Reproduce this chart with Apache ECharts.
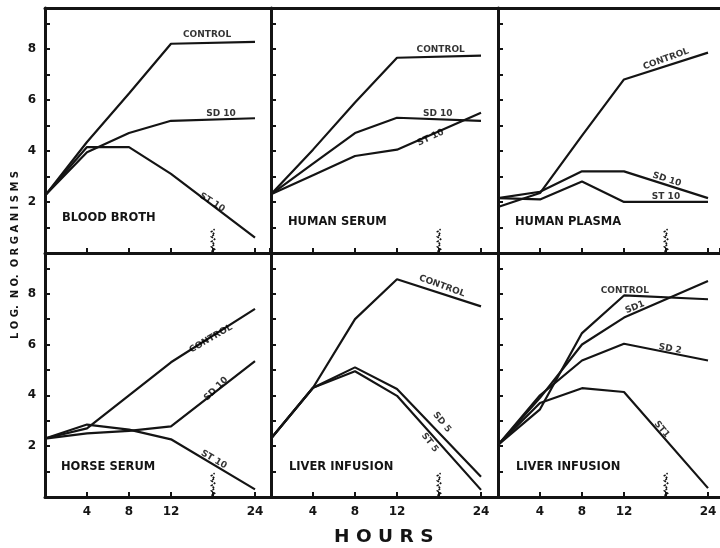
<!DOCTYPE html>
<html>
<head>
<meta charset="utf-8">
<script src="https://cdn.jsdelivr.net/npm/echarts@6/dist/echarts.min.js"></script>
<style>
html,body{margin:0;padding:0;background:#fff;}
#chart{width:720px;height:548px;}
</style>
</head>
<body>
<div id="chart"></div>
<script>
// ---- data ----
const HOURS = [0, 4, 8, 12, 24];
// axis slots: slot 4 is the axis break between 12 and 24 hours
const TICK_LABELS = ['0', '4', '8', '12', '', '24'];
const Y_TICK_LABELS = ['2', '4', '6', '8'];

const bloodControl  = [2.25, 4.35, 6.25, 8.2, 8.27];
const bloodSD10     = [2.25, 3.95, 4.7, 5.18, 5.28];
const bloodST10     = [2.25, 4.15, 4.15, 3.1, 0.6];

const serumControl  = [2.3, 4.05, 5.9, 7.65, 7.73];
const serumSD10     = [2.3, 3.5, 4.7, 5.3, 5.18];
const serumST10     = [2.3, 3.05, 3.8, 4.05, 5.5];

const plasmaControl = [1.8, 2.35, 4.6, 6.8, 7.85];
const plasmaSD10    = [2.15, 2.4, 3.2, 3.2, 2.15];
const plasmaST10    = [2.15, 2.1, 2.8, 2.0, 2.0];

const horseControl  = [2.3, 2.7, 4.0, 5.3, 7.4];
const horseSD10     = [2.3, 2.5, 2.6, 2.78, 5.35];
const horseST10     = [2.3, 2.85, 2.65, 2.27, 0.3];

const liverControl  = [2.3, 4.3, 7.0, 8.57, 7.5];
const liverSD5      = [2.3, 4.3, 5.1, 4.25, 0.8];
const liverST5      = [2.3, 4.3, 4.95, 3.98, 0.28];

const liver2Control = [2.05, 3.45, 6.45, 7.93, 7.78];
const liver2SD1     = [2.05, 3.9, 6.0, 7.06, 8.5];
const liver2SD2     = [2.05, 4.0, 5.37, 6.03, 5.37];
const liver2ST1     = [2.05, 3.7, 4.28, 4.13, 0.35];

// ---- layout / annotations ----
const FONT = 'DejaVu Sans';
const INK = '#141414';
const SLOT_PX = 42;
const panels = [
  {name: 'BLOOD BROTH', grid: {left: 45, top: 8, width: 225, height: 245}, namePos: [62, 219],
   series: [bloodControl, bloodSD10, bloodST10],
   labels: [['CONTROL', 3.86, 8.55, 0], ['SD 10', 4.19, 5.47, 0], ['ST 10', 3.98, 1.98, -32]]},
  {name: 'HUMAN SERUM', grid: {left: 271, top: 8, width: 227, height: 245}, namePos: [288, 223],
   series: [serumControl, serumSD10, serumST10],
   labels: [['CONTROL', 4.04, 7.95, 0], ['SD 10', 3.97, 5.47, 0], ['ST 10', 3.8, 4.52, 25]]},
  {name: 'HUMAN PLASMA', grid: {left: 498, top: 8, width: 222, height: 245}, namePos: [515, 223],
   series: [plasmaControl, plasmaSD10, plasmaST10],
   labels: [['CONTROL', 4.0, 7.6, 20], ['SD 10', 4.02, 2.88, -18], ['ST 10', 4.0, 2.22, 0]]},
  {name: 'HORSE SERUM', grid: {left: 45, top: 253, width: 225, height: 244}, namePos: [61, 468],
   series: [horseControl, horseSD10, horseST10],
   labels: [['CONTROL', 3.95, 6.23, 30], ['SD 10', 4.07, 4.25, 45], ['ST 10', 4.02, 1.47, -30]]},
  {name: 'LIVER INFUSION', grid: {left: 271, top: 253, width: 227, height: 244}, namePos: [289, 468],
   series: [liverControl, liverSD5, liverST5],
   labels: [['CONTROL', 4.07, 8.3, -20], ['SD 5', 4.07, 2.94, -50], ['ST 5', 3.78, 2.14, -52]]},
  {name: 'LIVER INFUSION', grid: {left: 498, top: 253, width: 222, height: 244}, namePos: [516, 468],
   series: [liver2Control, liver2SD1, liver2SD2, liver2ST1],
   labels: [['CONTROL', 3.02, 8.1, 0], ['SD1', 3.26, 7.46, 22], ['SD 2', 4.1, 5.83, -10], ['ST1', 3.9, 2.66, -50]]}
];

function slotOf(h) { return TICK_LABELS.indexOf(String(h)); }
const BREAK_SLOT = TICK_LABELS.indexOf('');

const grids = [], xAxes = [], yAxes = [], series = [], graphics = [];
const axisLine = {show: true, lineStyle: {color: INK, width: 3}};
const axisTick = {show: true, inside: true, length: 5, lineStyle: {color: INK, width: 2}};

panels.forEach((p, i) => {
  const bottomRow = i >= 3, leftCol = i % 3 === 0;
  grids.push(Object.assign({containLabel: false}, p.grid));
  xAxes.push({
    type: 'value', gridIndex: i, min: 0, max: p.grid.width / SLOT_PX, interval: 1,
    axisLine, axisTick, splitLine: {show: false},
    axisLabel: {show: bottomRow, showMaxLabel: false, showMinLabel: false, margin: 9,
      color: INK, fontFamily: FONT, fontWeight: 'bold', fontSize: 12,
      formatter: v => (Number.isInteger(v) && v > 0 ? TICK_LABELS[v] : '')}
  });
  yAxes.push({
    type: 'value', gridIndex: i, min: 0, max: 9.6, interval: 1,
    axisLine, axisTick, splitLine: {show: false},
    axisLabel: {show: leftCol, showMaxLabel: false, margin: 9,
      color: INK, fontFamily: FONT, fontWeight: 'bold', fontSize: 12,
      formatter: v => (Y_TICK_LABELS.indexOf(String(v)) >= 0 ? String(v) : '')}
  });
  p.series.forEach(vals => {
    series.push({
      type: 'line', xAxisIndex: i, yAxisIndex: i, symbol: 'none', silent: true,
      lineStyle: {color: INK, width: 2.2}, z: 3,
      data: vals.map((v, k) => [slotOf(HOURS[k]), v])
    });
  });
  // axis-break squiggle
  series.push({
    type: 'custom', xAxisIndex: i, yAxisIndex: i, silent: true, z: 2,
    data: [[BREAK_SLOT, 0.05, 1.0]],
    renderItem: (params, api) => {
      const a = api.coord([api.value(0), api.value(1)]);
      const b = api.coord([api.value(0), api.value(2)]);
      const pts = [];
      let n = 0;
      for (let y = a[1]; y >= b[1]; y -= 2.5) { pts.push([a[0] + (n % 2 ? 1.6 : -1.6), y]); n++; }
      return {type: 'polyline', shape: {points: pts},
        style: {stroke: INK, lineWidth: 1.6, fill: null, lineDash: [2, 1.2]}};
    }
  });
  // line labels
  series.push({
    type: 'scatter', xAxisIndex: i, yAxisIndex: i, symbolSize: 0, silent: true, z: 4,
    data: p.labels.map(l => ({value: [l[1], l[2]],
      label: {show: true, position: 'inside', formatter: l[0], rotate: l[3],
        color: '#000', fontFamily: FONT, fontWeight: 'bold', fontSize: 9}}))
  });
  graphics.push({type: 'text', left: p.namePos[0], top: p.namePos[1] - 7,
    style: {text: p.name, fill: INK, font: 'bold 11.5px "' + FONT + '"'}});
});
// top frame line for the upper row
[0, 1, 2].forEach(i => {
  xAxes.push({type: 'value', gridIndex: i, position: 'top', min: 0, max: panels[i].grid.width / SLOT_PX,
    axisLine, axisTick: {show: false}, axisLabel: {show: false}, splitLine: {show: false}});
});

graphics.push({type: 'text', left: 334, top: 528,
  style: {text: 'H O U R S', fill: INK, font: 'bold 18.5px "' + FONT + '"'}});
graphics.push({type: 'text', x: 15, y: 255, rotation: Math.PI / 2, originX: 0, originY: 0,
  style: {text: 'L O G.  N O.  O R G A N I S M S', fill: INK, font: 'bold 10px "' + FONT + '"',
    align: 'center', verticalAlign: 'middle'}});

const chart = echarts.init(document.getElementById('chart'), null, {renderer: 'canvas'});
chart.setOption({
  animation: false,
  backgroundColor: '#fff',
  grid: grids, xAxis: xAxes, yAxis: yAxes, series, graphic: graphics
});
</script>
</body>
</html>
